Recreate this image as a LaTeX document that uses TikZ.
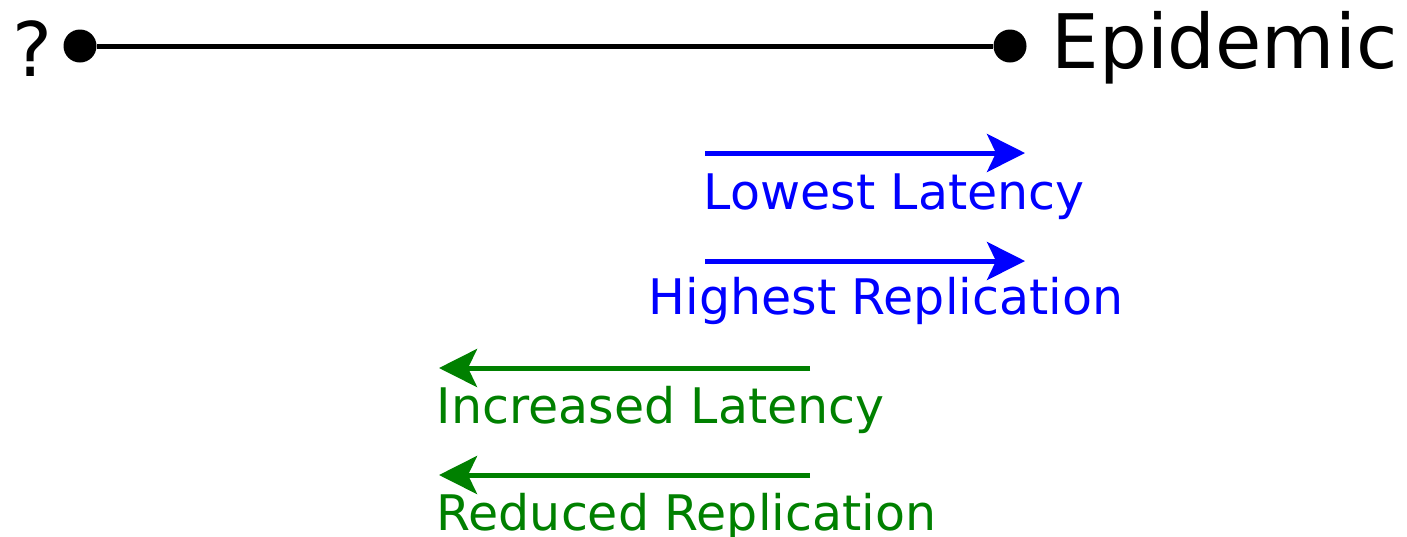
\documentclass[tikz,border=0pt]{standalone}
\usepackage{fontspec}
\setmainfont{DejaVu Sans}
\usetikzlibrary{arrows.meta, positioning}
\definecolor{arrowblue}{RGB}{0,0,255}
\definecolor{arrowgreen}{RGB}{0,128,0}

\begin{document}
\begin{tikzpicture}[
  dot/.style={circle, fill=black, inner sep=0pt, minimum size=0.33cm},
  endlbl/.style={anchor=base west, inner sep=0pt, font=\fontsize{21.4}{25}\selectfont},
  lbl/.style={anchor=base west, inner sep=0pt, text=#1, font=\fontsize{13.95}{16}\selectfont},
  arr/.style={-{Stealth[length=0.38cm, width=0.38cm, inset=0.09cm]}, line width=1.42pt, #1}
]
\useasboundingbox (0,0) rectangle (14.07,5.36);
% scale line
\node[dot] (left)  at (0.80,4.90) {};
\node[dot] (right) at (10.10,4.90) {};
\node[endlbl] (unknown) at (0.12,4.60) {?};
\node[endlbl] (epidemic) at (10.51,4.68) {Epidemic};
\draw[line width=1.42pt] (left) -- (right);
% towards epidemic
\coordinate (lowS)  at (7.05,3.83);
\coordinate (lowE)  at (10.25,3.83);
\coordinate (highS) at (7.05,2.75);
\coordinate (highE) at (10.25,2.75);
\draw[arr=arrowblue] (lowS)  -- (lowE);
\draw[arr=arrowblue] (highS) -- (highE);
\node[lbl=arrowblue] (lowlat)  at (7.03,3.27) {Lowest Latency};
\node[lbl=arrowblue] (highrep) at (6.48,2.22) {Highest Replication};
% away from epidemic
\coordinate (incS) at (8.10,1.68);
\coordinate (incE) at (4.39,1.68);
\coordinate (redS) at (8.10,0.61);
\coordinate (redE) at (4.39,0.61);
\draw[arr=arrowgreen] (incS) -- (incE);
\draw[arr=arrowgreen] (redS) -- (redE);
\node[lbl=arrowgreen] (inclat) at (4.36,1.13) {Increased Latency};
\node[lbl=arrowgreen] (redrep) at (4.36,0.06) {Reduced Replication};
\end{tikzpicture}
\end{document}
